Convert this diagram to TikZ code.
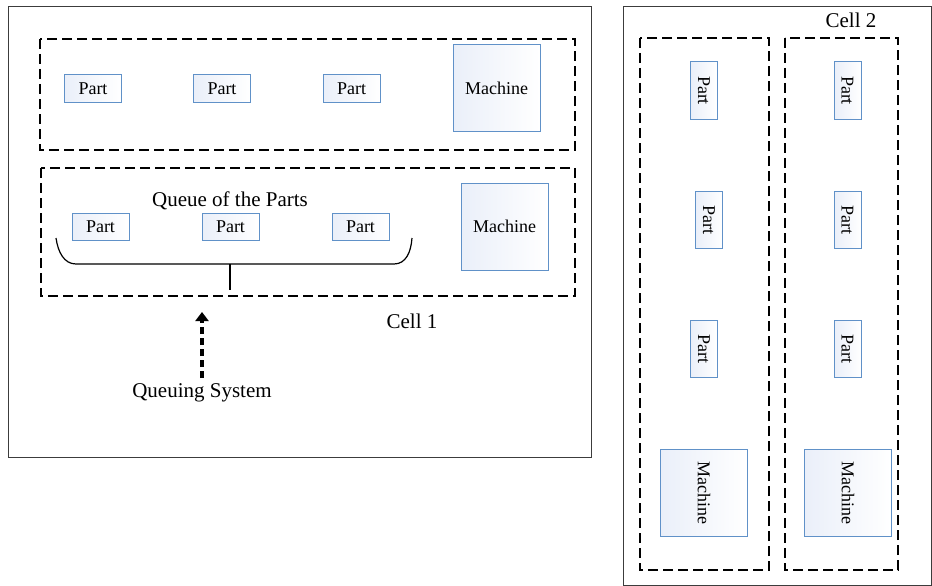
\documentclass[tikz,border=0pt]{standalone}
\usepackage{fontspec}
\setmainfont{Liberation Serif}
\usetikzlibrary{arrows.meta}
\definecolor{boxblue}{RGB}{96,145,200}
\definecolor{shadeblue}{RGB}{234,239,249}
\definecolor{framegray}{RGB}{60,60,60}
\tikzset{
  item/.style={draw=boxblue, line width=1pt, left color=shadeblue, right color=white,
    inner sep=0pt, font=\fontsize{18}{20}\selectfont},
  partbox/.style={item, minimum width=57pt, minimum height=27pt},
  machinebox/.style={item, minimum width=87pt, minimum height=87pt},
  groupbox/.style={draw=black, line width=1.5pt, dash pattern=on 10pt off 5pt},
  cellframe/.style={draw=framegray, line width=1pt},
  label/.style={font=\fontsize{21}{24}\selectfont, inner sep=0pt},
  queuearrow/.style={line width=3.5pt, dash pattern=on 7pt off 4pt, -{Triangle[width=13pt,length=9pt]}},
}
\begin{document}
\begin{tikzpicture}[x=1pt,y=-1pt]
\useasboundingbox (0,0) rectangle (932,586);
% Cell 1
\draw[cellframe] (8,7) rectangle (591,457);
\draw[groupbox] (40,39) rectangle (575,150);
\draw[groupbox] (41,168) rectangle (575,296);
\node[partbox] (p11) at (93,88.5) {Part};
\node[partbox] (p12) at (222,88.5) {Part};
\node[partbox] (p13) at (351.5,88.5) {Part};
\node[machinebox] (m1) at (496.5,88) {Machine};
\node[partbox] (p21) at (100.5,226.5) {Part};
\node[partbox] (p22) at (230.5,226.5) {Part};
\node[partbox] (p23) at (360.5,226.5) {Part};
\node[machinebox] (m2) at (504.5,226.5) {Machine};
\node[label] (qlabel) at (230,201) {Queue of the Parts};
% brace
\coordinate (bl) at (56,238);
\coordinate (br) at (412,238);
\coordinate (bc) at (230,264);
\coordinate (bs) at (230,290);
\draw[line width=1.2pt] (bl) .. controls (58,252) and (64,264) .. (76,264) -- (394,264) .. controls (406,264) and (411,252) .. (br);
\draw[line width=1.2pt] (bc) -- (bs);
\node[label] (qsys) at (202,393) {Queuing System};
\coordinate (atip) at (202,312);
\draw[queuearrow] (qsys.north |- 0,378) -- (atip);
\node[label] (cell1) at (412,321) {Cell 1};
% Cell 2
\draw[cellframe] (623,7) rectangle (931,585);
\node[label] (cell2) at (851,20) {Cell 2};
\draw[groupbox] (640,38) rectangle (769,570);
\draw[groupbox] (785,38) rectangle (898,570);
\node[partbox, rotate=-90] (q11) at (704,90.5) {Part};
\node[partbox, rotate=-90] (q12) at (709,220) {Part};
\node[partbox, rotate=-90] (q13) at (704,349) {Part};
\node[machinebox, rotate=-90] (m3) at (704,492.5) {Machine};
\node[partbox, rotate=-90] (q21) at (847.5,90.5) {Part};
\node[partbox, rotate=-90] (q22) at (847.5,220) {Part};
\node[partbox, rotate=-90] (q23) at (847.5,349) {Part};
\node[machinebox, rotate=-90] (m4) at (848,492.5) {Machine};
\end{tikzpicture}
\end{document}
